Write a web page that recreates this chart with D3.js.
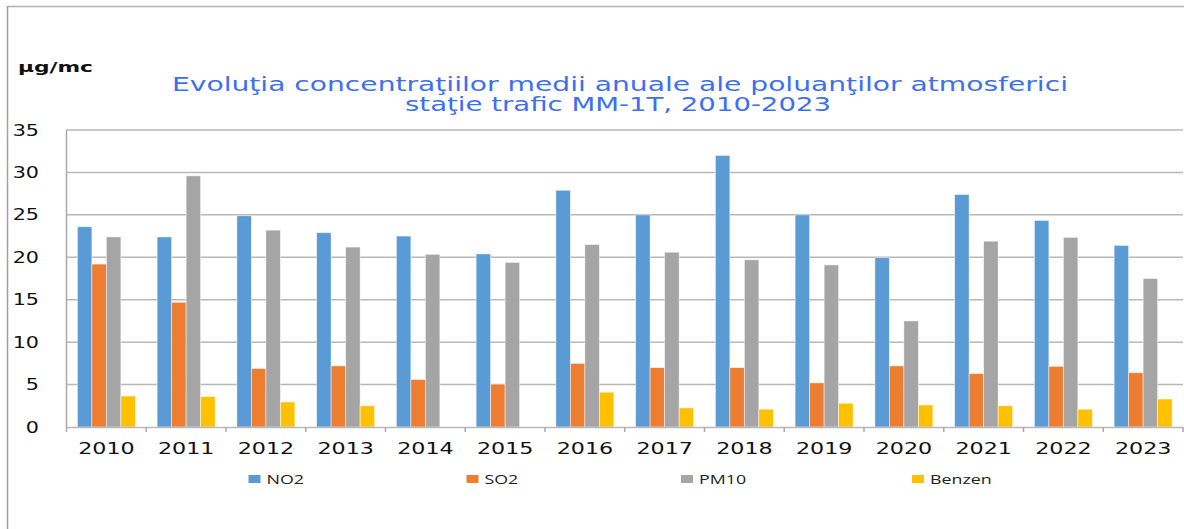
<!DOCTYPE html>
<html>
<head>
<meta charset="utf-8">
<script src="https://cdn.jsdelivr.net/npm/d3@7"></script>
<style>
  body { margin: 0; background: #fff; }
  svg { display: block; }
</style>
</head>
<body>
<svg id="chart" width="1184" height="529"></svg>
<script>
// data
var years = ["2010", "2011", "2012", "2013", "2014", "2015", "2016", "2017", "2018", "2019", "2020", "2021", "2022", "2023"];
var seriesNames = ["NO2", "SO2", "PM10", "Benzen"];
var no2 = [23.6, 22.4, 24.9, 22.9, 22.5, 20.4, 27.9, 25.0, 32.0, 25.0, 19.95, 27.4, 24.35, 21.4];
var so2 = [19.2, 14.7, 6.9, 7.2, 5.6, 5.05, 7.5, 7.0, 7.0, 5.2, 7.2, 6.3, 7.15, 6.4];
var pm10 = [22.4, 29.6, 23.2, 21.2, 20.35, 19.4, 21.5, 20.6, 19.7, 19.1, 12.5, 21.9, 22.35, 17.5];
var benzen = [3.65, 3.6, 2.95, 2.5, null, null, 4.1, 2.25, 2.1, 2.8, 2.6, 2.5, 2.1, 3.3];
var yTicks = [0, 5, 10, 15, 20, 25, 30, 35];
var colors = ["#5b9bd5", "#ed7d31", "#a5a5a5", "#ffc000"];

var values = [no2, so2, pm10, benzen];

// the original picture is stretched sideways, so widen the glyphs too
function stretch(sel, k) {
  sel.each(function() {
    var len = this.getComputedTextLength();
    d3.select(this).attr("textLength", len * k).attr("lengthAdjust", "spacingAndGlyphs");
  });
}

(function() {
var svg = d3.select("#chart");
var pLeft = 66.5, pRight = 1183, pTop = 130, pBottom = 427;

// frame of the chart area
svg.append("line").attr("x1", 7.5).attr("x2", 1184).attr("y1", 6.5).attr("y2", 6.5)
  .attr("stroke", "#b0b0b0").attr("stroke-width", 1.5);
svg.append("line").attr("x1", 7.5).attr("x2", 7.5).attr("y1", 6).attr("y2", 529)
  .attr("stroke", "#a0a0a0").attr("stroke-width", 1.5);

var x = d3.scaleBand().domain(years).range([pLeft, pRight]).paddingInner(0).paddingOuter(0);
var xs = d3.scaleBand().domain(seriesNames).range([0, x.bandwidth()]).paddingInner(0).paddingOuter(0.75);
var y = d3.scaleLinear().domain([0, 35]).range([pBottom, pTop]);
var color = d3.scaleOrdinal().domain(seriesNames).range(colors);

// gridlines
svg.append("g").selectAll("line")
  .data(yTicks.filter(function(d) { return d > 0; }))
  .enter().append("line")
  .attr("x1", pLeft).attr("x2", pRight)
  .attr("y1", function(d) { return y(d); })
  .attr("y2", function(d) { return y(d); })
  .attr("stroke", "#b8b8b8").attr("stroke-width", 1.5);

// y labels
var yl = svg.append("g").selectAll("text")
  .data(yTicks)
  .enter().append("text")
  .attr("x", 39)
  .attr("y", function(d) { return y(d) + 5.5; })
  .attr("text-anchor", "end")
  .attr("font-family", "DejaVu Sans")
  .attr("font-size", 15)
  .attr("fill", "#111")
  .text(function(d) { return d; });
stretch(yl, 1.38);

// bars
var rows = years.map(function(yr, i) {
  return seriesNames.map(function(s, j) { return { year: yr, key: s, value: values[j][i] }; });
});

svg.append("g").selectAll("g")
  .data(rows)
  .enter().append("g")
  .attr("transform", function(d) { return "translate(" + x(d[0].year) + ",0)"; })
  .selectAll("rect")
  .data(function(d) { return d.filter(function(e) { return e.value != null; }); })
  .enter().append("rect")
  .attr("x", function(d) { return xs(d.key); })
  .attr("width", xs.bandwidth())
  .attr("y", function(d) { return y(d.value); })
  .attr("height", function(d) { return y(0) - y(d.value); })
  .attr("fill", function(d) { return color(d.key); })
  .attr("stroke", "#fff").attr("stroke-opacity", 0.6).attr("stroke-width", 0.8);

// left axis line
svg.append("line").attr("x1", pLeft).attr("x2", pLeft).attr("y1", pTop).attr("y2", pBottom)
  .attr("stroke", "#a8a8a8").attr("stroke-width", 1.5);

// x axis
var xAxis = d3.axisBottom(x).tickSize(0).tickSizeOuter(0);
var gx = svg.append("g").attr("transform", "translate(0," + pBottom + ")").call(xAxis);
gx.select(".domain").attr("stroke", "#b8b8b8").attr("stroke-width", 1.5);
var xl = gx.selectAll(".tick text")
  .attr("y", 27)
  .attr("dy", 0)
  .attr("font-family", "DejaVu Sans")
  .attr("font-size", 15)
  .attr("fill", "#111");
stretch(xl, 1.48);

// tick marks between categories
var bounds = years.map(function(d) { return x(d); }).concat([pRight]);
svg.append("g").selectAll("line")
  .data(bounds)
  .enter().append("line")
  .attr("x1", function(d) { return d; }).attr("x2", function(d) { return d; })
  .attr("y1", pBottom).attr("y2", pBottom + 5)
  .attr("stroke", "#a8a8a8").attr("stroke-width", 1.5);

// unit label
svg.append("text")
  .attr("x", 18).attr("y", 72)
  .attr("font-family", "DejaVu Sans")
  .attr("font-weight", "bold")
  .attr("font-size", 14)
  .attr("textLength", 75).attr("lengthAdjust", "spacingAndGlyphs")
  .attr("fill", "#111")
  .text("µg/mc");

// title
var title = svg.append("g").attr("font-family", "DejaVu Sans").attr("font-size", 19).attr("fill", "#3d6ff0");
title.append("text").attr("x", 172).attr("y", 91)
  .attr("textLength", 896).attr("lengthAdjust", "spacingAndGlyphs")
  .text("Evoluţia concentraţiilor medii anuale ale poluanţilor atmosferici");
title.append("text").attr("x", 405).attr("y", 111)
  .attr("textLength", 426).attr("lengthAdjust", "spacingAndGlyphs")
  .text("staţie trafic MM-1T, 2010-2023");

// legend
var legendX = [248.5, 466.5, 681, 912];
var legend = svg.append("g").selectAll("g")
  .data(seriesNames)
  .enter().append("g")
  .attr("transform", function(d, i) { return "translate(" + legendX[i] + ",475)"; });
legend.append("rect").attr("width", 12).attr("height", 8)
  .attr("fill", function(d) { return color(d); });
var lt = legend.append("text").attr("x", 18).attr("y", 8.5)
  .attr("font-family", "Open Sans")
  .attr("font-size", 13)
  .attr("fill", "#222")
  .text(function(d) { return d; });
stretch(lt, 1.37);
})();
</script>
</body>
</html>
